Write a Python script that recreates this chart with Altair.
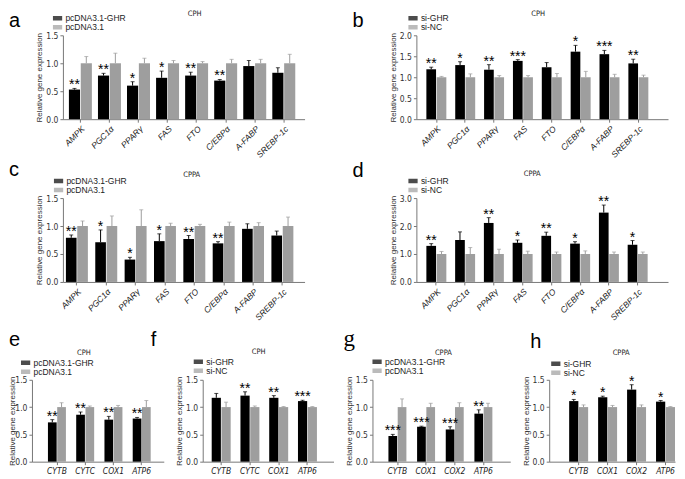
import altair as alt
import pandas as pd

# ---------------- data ----------------
GENES8 = ["AMPK", "PGC1α", "PPARγ", "FAS", "FTO", "C/EBPα", "A-FABP", "SREBP-1c"]
GENES_CPH4 = ["CYTB", "CYTC", "COX1", "ATP6"]
GENES_CPPA4 = ["CYTB", "COX1", "COX2", "ATP6"]
OE = ["pcDNA3.1-GHR", "pcDNA3.1"]
KD = ["si-GHR", "si-NC"]

a_black = [0.53, 0.78, 0.60, 0.74, 0.78, 0.69, 0.95, 0.83]
a_black_err = [0.02, 0.04, 0.07, 0.12, 0.06, 0.02, 0.10, 0.09]
a_grey = [1.00, 1.00, 1.00, 1.00, 1.00, 1.00, 1.00, 1.00]
a_grey_err = [0.12, 0.18, 0.09, 0.05, 0.03, 0.07, 0.07, 0.16]
a_stars = ["**", "**", "*", "*", "**", "**", "", ""]

b_black = [1.19, 1.29, 1.18, 1.39, 1.24, 1.61, 1.55, 1.33]
b_black_err = [0.05, 0.08, 0.12, 0.03, 0.11, 0.15, 0.09, 0.10]
b_grey = [1.00, 1.00, 1.00, 1.00, 1.00, 1.00, 1.00, 1.00]
b_grey_err = [0.02, 0.08, 0.04, 0.04, 0.09, 0.14, 0.07, 0.05]
b_stars = ["**", "*", "**", "***", "", "*", "***", "**"]

c_black = [0.79, 0.71, 0.40, 0.73, 0.77, 0.69, 0.95, 0.83]
c_black_err = [0.05, 0.22, 0.04, 0.13, 0.06, 0.03, 0.09, 0.08]
c_grey = [1.00, 1.00, 1.00, 1.00, 1.00, 1.00, 1.00, 1.00]
c_grey_err = [0.09, 0.18, 0.29, 0.05, 0.03, 0.07, 0.06, 0.16]
c_stars = ["**", "*", "*", "*", "**", "**", "", ""]

d_black = [1.29, 1.50, 2.11, 1.40, 1.65, 1.37, 2.48, 1.33]
d_black_err = [0.08, 0.29, 0.19, 0.10, 0.13, 0.07, 0.27, 0.15]
d_grey = [1.00, 1.00, 1.00, 1.00, 1.00, 1.00, 1.00, 1.00]
d_grey_err = [0.09, 0.23, 0.17, 0.10, 0.07, 0.11, 0.07, 0.07]
d_stars = ["**", "", "**", "*", "**", "*", "**", "*"]

e_black = [0.72, 0.86, 0.77, 0.79]
e_black_err = [0.05, 0.05, 0.06, 0.02]
e_grey = [1.00, 1.00, 1.00, 1.00]
e_grey_err = [0.08, 0.02, 0.03, 0.12]
e_stars = ["**", "**", "**", "**"]

f_black = [1.17, 1.21, 1.17, 1.11]
f_black_err = [0.08, 0.07, 0.04, 0.015]
f_grey = [1.00, 1.00, 1.00, 1.00]
f_grey_err = [0.09, 0.02, 0.01, 0.01]
f_stars = ["", "**", "**", "***"]

g_black = [0.47, 0.64, 0.59, 0.88]
g_black_err = [0.03, 0.01, 0.05, 0.07]
g_grey = [1.00, 1.00, 1.00, 1.00]
g_grey_err = [0.15, 0.07, 0.08, 0.07]
g_stars = ["***", "***", "***", "**"]

h_black = [1.11, 1.18, 1.32, 1.10]
h_black_err = [0.03, 0.02, 0.09, 0.02]
h_grey = [1.00, 1.00, 1.00, 1.00]
h_grey_err = [0.04, 0.03, 0.04, 0.01]
h_stars = ["*", "*", "*", "*"]

# ---------------- style ----------------
BLACK = "#000000"
GREY = "#9e9e9e"
SANS = "Liberation Sans, Arial, sans-serif"
NARROW = "Liberation Sans Narrow, DejaVu Sans Condensed, Liberation Sans, sans-serif"
SERIF = "Liberation Serif, Times New Roman, serif"
AXC = "#777777"
TXC = "#222222"


def frame_layer(W, H, frame):
    L, R, T, B = frame
    return alt.Chart(pd.DataFrame({"f": [0]})).mark_rect(opacity=0).encode(
        x=alt.value(-L), x2=alt.value(W + R), y=alt.value(-T), y2=alt.value(H + B))


def letter_layers(letters):
    out = []
    for (txt, lx, ly, lfont, lsize) in letters:
        out.append(alt.Chart(pd.DataFrame({"t": [txt]})).mark_text(
            font=lfont, fontSize=lsize, color=BLACK, align="left", baseline="alphabetic"
        ).encode(x=alt.value(lx), y=alt.value(ly), text="t:N"))
    return out


def spacer(H, frame, letters):
    return alt.layer(frame_layer(1, H, frame), *letter_layers(letters)).properties(
        width=1, height=H)


def panel(genes, groups, bv, be, gv, ge, stars, W, H, ymax, yvals,
          o1, step, band, rotate, title, tx, ty, letters, legx, legy, ytx, frame):
    rows = []
    for i, gname in enumerate(genes):
        rows.append({"gene": gname, "grp": groups[0], "value": bv[i],
                     "top": bv[i] + be[i], "star": stars[i]})
        rows.append({"gene": gname, "grp": groups[1], "value": gv[i],
                     "top": gv[i] + ge[i], "star": ""})
    df = pd.DataFrame(rows)

    n = len(genes)
    pi = 1 - band / step
    po = (W / step - n + pi) / 2
    outer = W - ((n - 1) * step + band)
    al = min(max((o1 - band / 2) / outer, 0), 1)
    xscale = alt.Scale(domain=genes, paddingInner=pi, paddingOuter=po, align=al)
    xaxis = alt.Axis(title=None, labelAngle=315 if rotate else 0,
                     labelFont=SANS if rotate else NARROW,
                     labelFontSize=8.5,
                     labelFontStyle="italic", labelColor=TXC,
                     tickSize=3, tickColor=AXC, domainColor=AXC,
                     labelPadding=2, labelOverlap=False)
    yaxis = alt.Axis(values=yvals, format=".1f", title="Relative  gene expression",
                     titleX=ytx, titleFont=SANS, titleFontSize=8,
                     titleFontWeight="normal", titleColor="#333333",
                     labelFont=NARROW, labelFontSize=8.5, labelColor="#333333",
                     tickSize=3, tickColor=AXC, domainColor=AXC,
                     labelPadding=2, grid=False, labelOverlap=False)
    yscale = alt.Scale(domain=[0, ymax], nice=False, zero=True)
    xo_scale = alt.Scale(domain=groups, paddingInner=0.06)
    cscale = alt.Scale(domain=groups, range=[BLACK, GREY])
    legend = alt.Legend(title=None, orient="none", legendX=legx, legendY=legy,
                        symbolType="M-2,-0.9H2V0.9H-2Z", symbolSize=25,
                        symbolStrokeWidth=0, labelFont=SANS, labelFontSize=8.5,
                        labelColor=TXC, rowPadding=0, clipHeight=6, labelOffset=4,
                        padding=0, labelLimit=200)

    X = alt.X("gene:N", scale=xscale, axis=xaxis, sort=None)
    XO = alt.XOffset("grp:N", scale=xo_scale, sort=None)
    C = alt.Color("grp:N", scale=cscale, legend=legend, sort=None)

    base = alt.Chart(df)
    bars = base.mark_bar().encode(
        x=X, xOffset=XO, y=alt.Y("value:Q", scale=yscale, axis=yaxis), color=C)
    rules = base.mark_rule(strokeWidth=1).encode(
        x=X, xOffset=XO, y=alt.Y("value:Q", scale=yscale, axis=yaxis),
        y2="top:Q", color=C)
    caps = base.mark_tick(size=4, thickness=1).encode(
        x=X, xOffset=XO, y=alt.Y("top:Q", scale=yscale, axis=yaxis), color=C)
    star = base.mark_text(fontSize=14, font=SANS, color=BLACK,
                          baseline="alphabetic", dy=1).encode(
        x=X, xOffset=XO, y=alt.Y("top:Q", scale=yscale, axis=yaxis), text="star:N")
    ttl = alt.Chart(pd.DataFrame({"t": [title]})).mark_text(
        font=NARROW, fontSize=7.5, color=TXC, align="center", baseline="alphabetic"
    ).encode(x=alt.value(tx), y=alt.value(ty), text="t:N")
    layers = [frame_layer(W, H, frame), bars, rules, caps, star, ttl] + letter_layers(letters)
    return alt.layer(*layers).properties(width=W, height=H)


F1 = (27, 41)   # row 1 frame top / bottom
F2 = (38, 41)   # row 2
F3 = (57, 14)   # row 3
H12 = 84
H3 = 82

sp1 = spacer(H12, (23, 0) + F1, [("a", -23, -8, SANS, 20)])
sp2 = spacer(H12, (23, 0) + F2, [("c", -23, -22, SANS, 20)])

pa = panel(GENES8, OE, a_black, a_black_err, a_grey, a_grey_err, a_stars,
           242, H12, 1.5, [0, 0.5, 1.0, 1.5], 17.5, 29.1, 23, True,
           "CPH", 132, -19, [], -10, -20, -19, (30, 41) + F1)
pb = panel(GENES8, KD, b_black, b_black_err, b_grey, b_grey_err, b_stars,
           252, H12, 2.0, [0, 0.5, 1.0, 1.5, 2.0], 20, 28.9, 20, True,
           "CPH", 122, -19, [("b", -64, -8, SANS, 20)], -8, -20, -19, (71, 9) + F1)
pc = panel(GENES8, OE, c_black, c_black_err, c_grey, c_grey_err, c_stars,
           242, H12, 1.5, [0, 0.5, 1.0, 1.5], 14, 29.4, 22, True,
           "CPPA", 129, -21, [], -9, -20, -19, (30, 41) + F2)
pd_ = panel(GENES8, KD, d_black, d_black_err, d_grey, d_grey_err, d_stars,
            252, H12, 3.0, [0, 1.0, 2.0, 3.0], 20, 28.8, 20, True,
            "CPPA", 116, -22, [("d", -64, -21, SANS, 20)], -8, -20, -19, (71, 9) + F2)
pe = panel(GENES_CPH4, OE, e_black, e_black_err, e_grey, e_grey_err, e_stars,
           132, H3, 1.5, [0, 0.5, 1.0, 1.5], 25, 28.3, 18, False,
           "CPH", 52, -25, [("e", -23, -34, SANS, 20), ("f", 119, -34, SANS, 20)],
           -11, -20, -15, (23, 9) + F3)
pf = panel(GENES_CPH4, KD, f_black, f_black_err, f_grey, f_grey_err, f_stars,
           131, H3, 1.5, [0, 0.5, 1.0, 1.5], 18.5, 28.8, 19, False,
           "CPH", 56, -26, [], -9, -21, -19, (30, 7) + F3)
pg = panel(GENES_CPPA4, OE, g_black, g_black_err, g_grey, g_grey_err, g_stars,
           138, H3, 1.5, [0, 0.5, 1.0, 1.5], 25, 28.7, 18, False,
           "CPPA", 71, -25, [("g", -29, -34, SERIF, 23)], 0, -21, -19, (32, 10) + F3)
ph = panel(GENES_CPPA4, KD, h_black, h_black_err, h_grey, h_grey_err, h_stars,
           126, H3, 1.5, [0, 0.5, 1.0, 1.5], 30, 29.0, 19, False,
           "CPPA", 72, -25, [("h", -19, -32, SANS, 20)], 2, -19, -19, (29, 2) + F3)


def indep(c):
    return c.resolve_scale(color="independent", xOffset="independent").resolve_legend(
        color="independent")


row1 = indep(alt.hconcat(sp1, pa, pb, spacing=0))
row2 = indep(alt.hconcat(sp2, pc, pd_, spacing=0))
row3 = indep(alt.hconcat(pe, pf, pg, ph, spacing=0))

chart = indep(alt.vconcat(row1, row2, row3, spacing=0)).properties(
    padding=0
).configure(font=SANS).configure_view(stroke=None)

chart.save("out.html", embed_options={"renderer": "svg", "actions": False})
